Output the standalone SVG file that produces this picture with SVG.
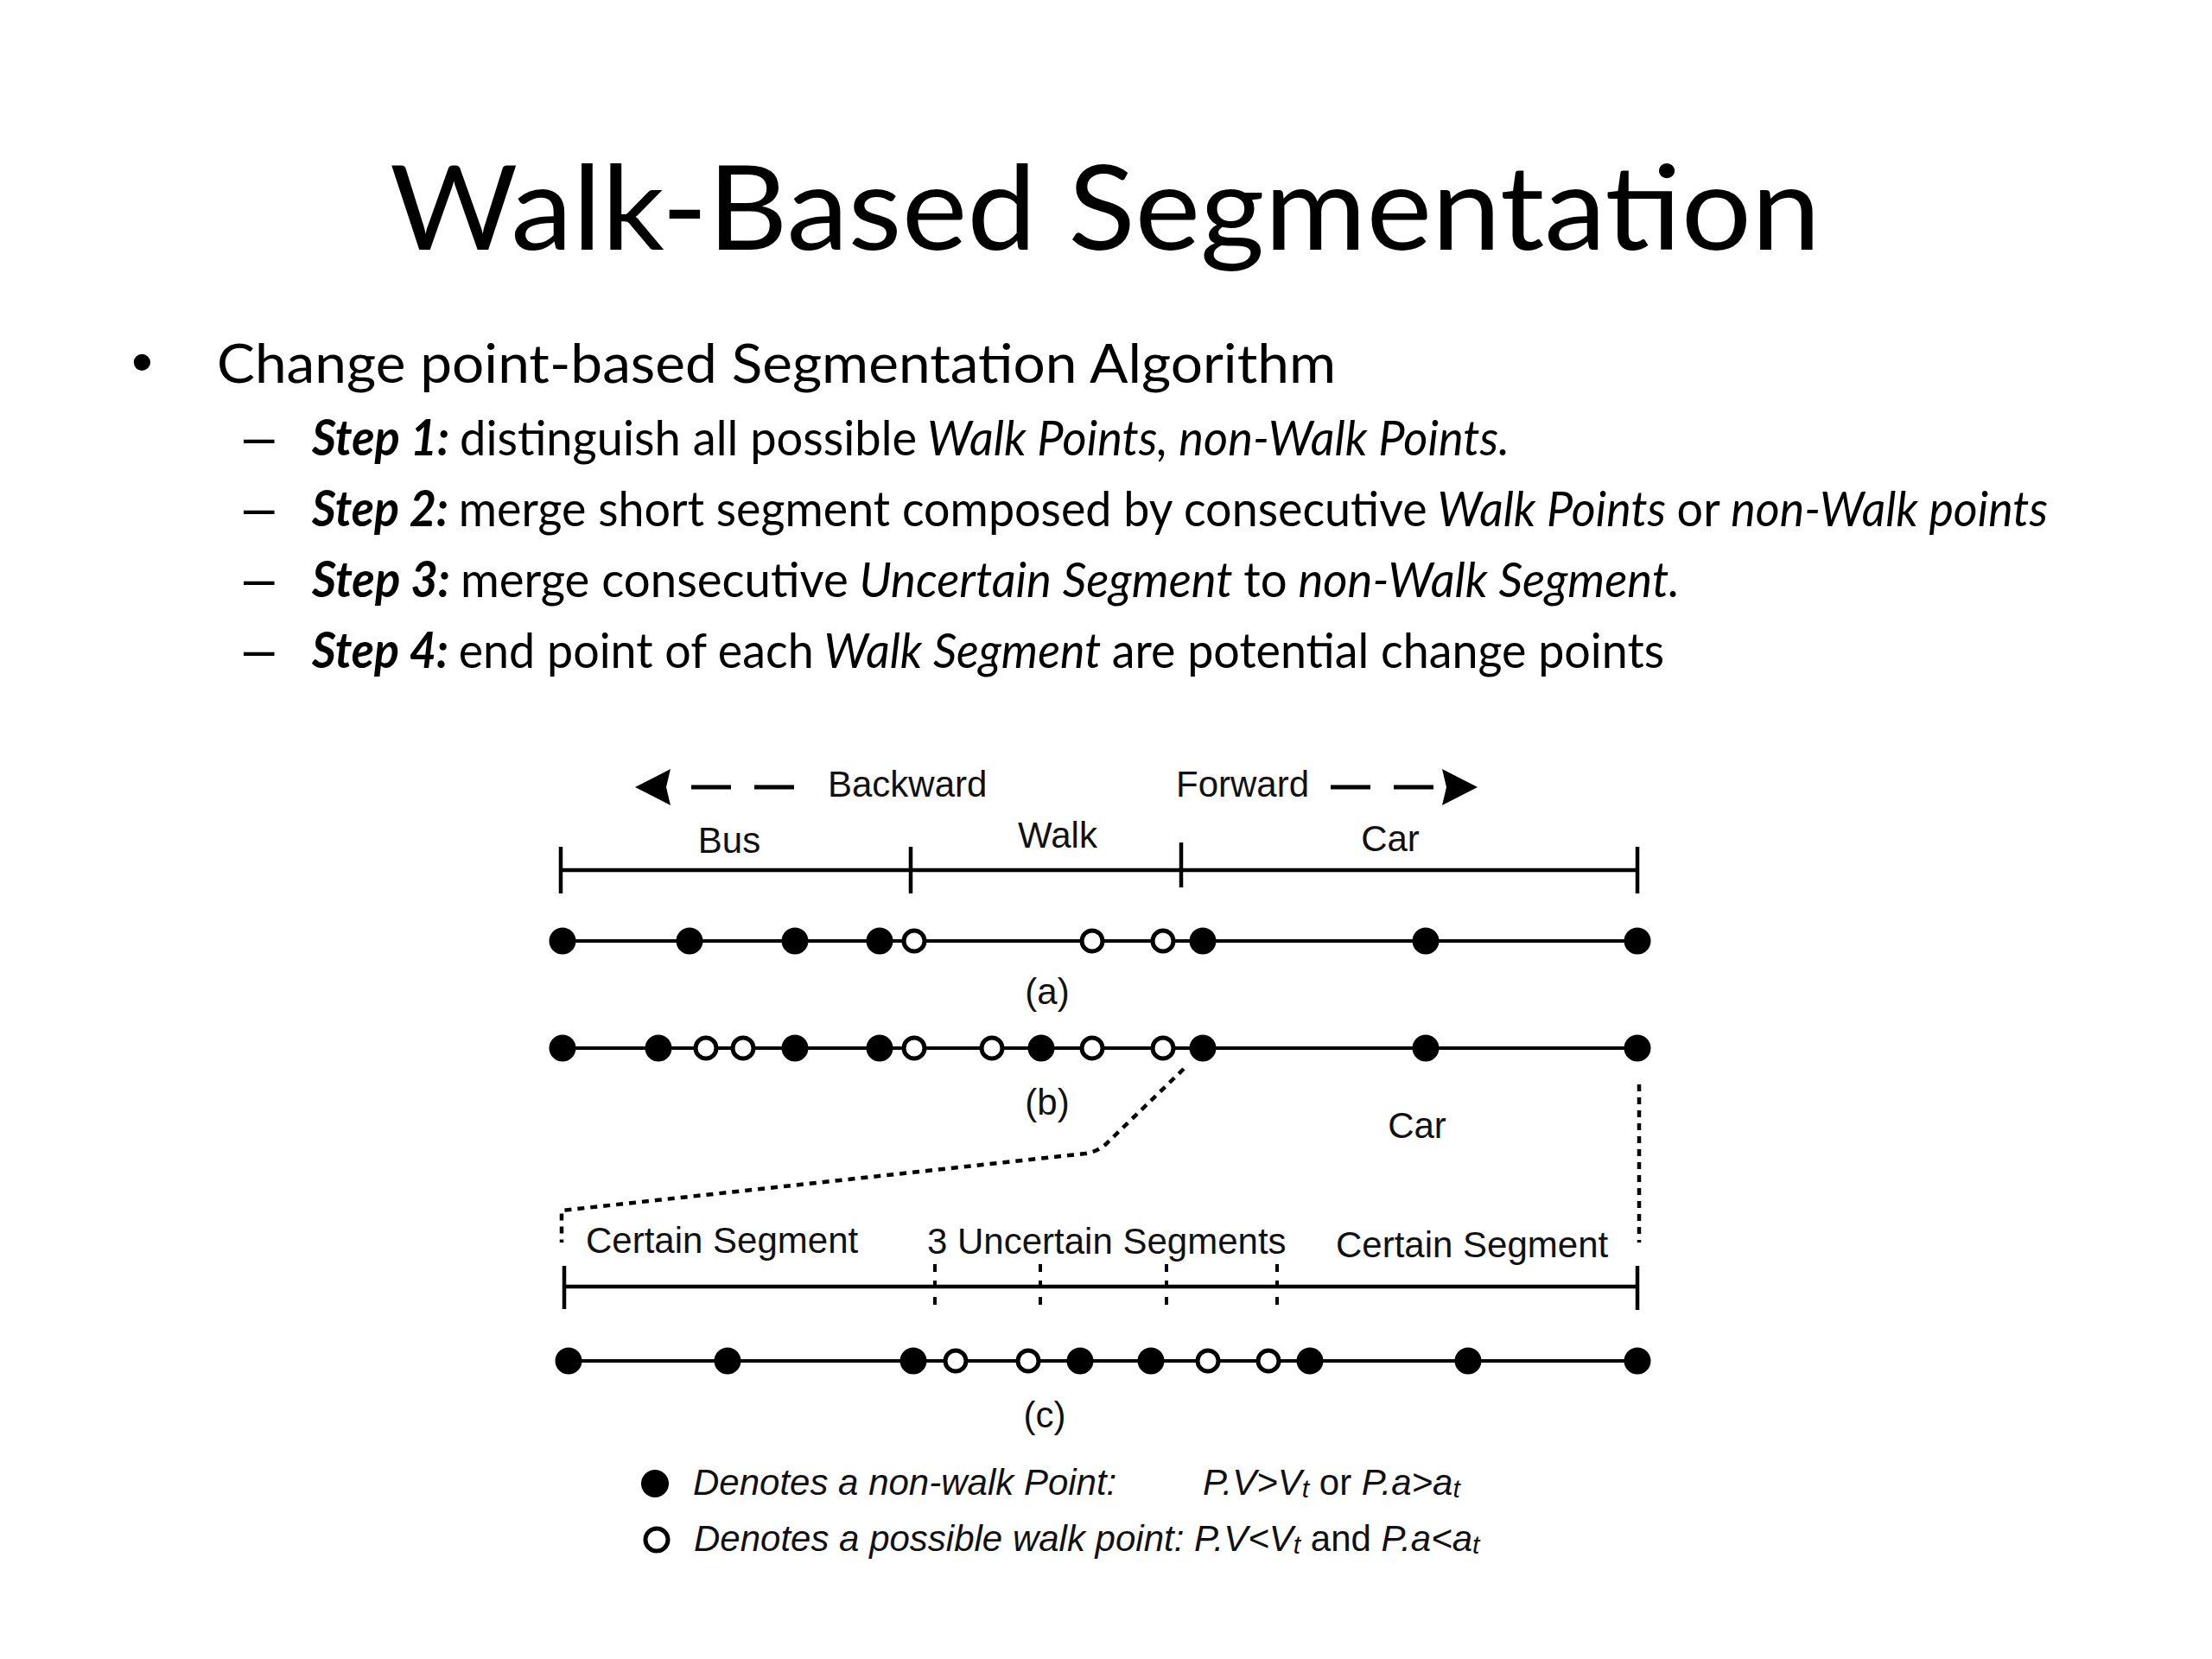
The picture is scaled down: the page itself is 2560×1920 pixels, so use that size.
<svg xmlns="http://www.w3.org/2000/svg" width="2560" height="1920" viewBox="0 0 2560 1920">
<defs>
<style>
.slide{font-family:Lato,"Open Sans","Noto Sans",sans-serif;fill:#000}
.b{font-weight:bold}
.i{font-style:italic}
.dash{font-family:"Liberation Sans",Arial,sans-serif;font-size:64px;fill:#000}
.lbl{font-family:"Liberation Sans",Arial,sans-serif;font-size:42px;fill:#111}
.mid{text-anchor:middle}
.ax{stroke:#000;stroke-width:4.5;fill:none}
.tk{stroke:#000;stroke-width:4.5;fill:none}
.dtk{stroke:#000;stroke-width:4;fill:none;stroke-dasharray:9 10}
.tl{stroke:#000;stroke-width:4;fill:none}
.pf{fill:#000}
.po{fill:#fff;stroke:#000;stroke-width:5}
.arr{stroke:#000;stroke-width:5;fill:none;stroke-dasharray:46 27}
.dot{stroke:#000;stroke-width:4.5;fill:none;stroke-dasharray:8 7}
.sub{font-size:30px}
</style>
<marker id="ah" markerUnits="userSpaceOnUse" markerWidth="42" markerHeight="42" refX="0" refY="21" orient="auto" viewBox="0 0 42 42">
<path d="M0,0 L41,21 L0,42 L5,21 Z" fill="#000"/>
</marker>
</defs>
<rect width="2560" height="1920" fill="#fff"/>

<g id="title">
<text class="slide" x="451" y="289" font-size="136" textLength="1656" lengthAdjust="spacingAndGlyphs">Walk-Based Segmentation</text>
</g>

<g id="bullets">
<text x="152" y="443" font-family="Liberation Sans,Arial,sans-serif" font-size="71">•</text>
<text class="slide" x="251" y="443" font-size="62.5" textLength="1295" lengthAdjust="spacingAndGlyphs">Change point-based Segmentation Algorithm</text>

<text class="dash" x="282" y="527">–</text>
<text class="slide" x="361" y="527" font-size="56.4" textLength="1386" lengthAdjust="spacingAndGlyphs"><tspan class="b i">Step 1: </tspan>distinguish all possible<tspan class="i"> Walk Points, non-Walk Points.</tspan></text>

<text class="dash" x="282" y="609">–</text>
<text class="slide" x="361" y="609" font-size="56.4" textLength="2009" lengthAdjust="spacingAndGlyphs"><tspan class="b i">Step 2: </tspan>merge short segment composed by consecutive<tspan class="i"> Walk Points </tspan>or<tspan class="i"> non-Walk points</tspan></text>

<text class="dash" x="282" y="691">–</text>
<text class="slide" x="361" y="691" font-size="56.4" textLength="1583" lengthAdjust="spacingAndGlyphs"><tspan class="b i">Step 3: </tspan>merge consecutive<tspan class="i"> Uncertain Segment </tspan>to<tspan class="i"> non-Walk Segment.</tspan></text>

<text class="dash" x="282" y="773">–</text>
<text class="slide" x="361" y="773" font-size="56.4" textLength="1565" lengthAdjust="spacingAndGlyphs"><tspan class="b i">Step 4: </tspan>end point of each<tspan class="i"> Walk Segment </tspan>are potential change points</text>
</g>

<g id="connectors">
<path class="arr" d="M919,911 L776,911" marker-end="url(#ah)"/>
<path class="arr" d="M1540,911 L1669,911" marker-end="url(#ah)"/>
<path class="dot" d="M1370,1237 L1280,1324 Q1270,1333 1256,1335 L650,1401 L650,1438"/>
<path class="dot" d="M1897,1255 L1897,1438"/>
</g>

<g id="direction-labels">
<text class="lbl" x="958" y="922">Backward</text>
<text class="lbl" x="1361" y="922">Forward</text>
</g>

<g id="mode-scale">
<line class="ax" x1="649" y1="1007" x2="1895" y2="1007"/>
<line class="tk" x1="649" y1="980" x2="649" y2="1034"/>
<line class="tk" x1="1054" y1="980" x2="1054" y2="1034"/>
<line class="tk" x1="1367" y1="975" x2="1367" y2="1027"/>
<line class="tk" x1="1895" y1="980" x2="1895" y2="1034"/>
<text class="lbl mid" x="844" y="987">Bus</text>
<text class="lbl mid" x="1224" y="981">Walk</text>
<text class="lbl mid" x="1609" y="985">Car</text>
</g>

<g id="row-a">
<line class="tl" x1="651" y1="1089" x2="1895" y2="1089"/>
<circle class="pf" cx="651" cy="1089" r="15.5"/>
<circle class="pf" cx="798" cy="1089" r="15.5"/>
<circle class="pf" cx="920" cy="1089" r="15.5"/>
<circle class="pf" cx="1018" cy="1089" r="15.5"/>
<circle class="po" cx="1058" cy="1089" r="12"/>
<circle class="po" cx="1264" cy="1089" r="12"/>
<circle class="po" cx="1346" cy="1089" r="12"/>
<circle class="pf" cx="1392" cy="1089" r="15.5"/>
<circle class="pf" cx="1650" cy="1089" r="15.5"/>
<circle class="pf" cx="1895" cy="1089" r="15.5"/>
<text class="lbl mid" x="1212" y="1162">(a)</text>
</g>

<g id="row-b">
<line class="tl" x1="651" y1="1213" x2="1895" y2="1213"/>
<circle class="pf" cx="651" cy="1213" r="15.5"/>
<circle class="pf" cx="762" cy="1213" r="15.5"/>
<circle class="po" cx="817" cy="1213" r="12"/>
<circle class="po" cx="860" cy="1213" r="12"/>
<circle class="pf" cx="920" cy="1213" r="15.5"/>
<circle class="pf" cx="1018" cy="1213" r="15.5"/>
<circle class="po" cx="1058" cy="1213" r="12"/>
<circle class="po" cx="1148" cy="1213" r="12"/>
<circle class="pf" cx="1205" cy="1213" r="15.5"/>
<circle class="po" cx="1264" cy="1213" r="12"/>
<circle class="po" cx="1346" cy="1213" r="12"/>
<circle class="pf" cx="1392" cy="1213" r="15.5"/>
<circle class="pf" cx="1650" cy="1213" r="15.5"/>
<circle class="pf" cx="1895" cy="1213" r="15.5"/>
<text class="lbl mid" x="1212" y="1290">(b)</text>
<text class="lbl mid" x="1640" y="1317">Car</text>
</g>

<g id="segment-scale">
<line class="ax" x1="653" y1="1489" x2="1895" y2="1489"/>
<line class="tk" x1="653" y1="1465" x2="653" y2="1515"/>
<line class="tk" x1="1895" y1="1465" x2="1895" y2="1516"/>
<line class="dtk" x1="1082" y1="1463" x2="1082" y2="1512"/>
<line class="dtk" x1="1204" y1="1463" x2="1204" y2="1512"/>
<line class="dtk" x1="1350" y1="1463" x2="1350" y2="1512"/>
<line class="dtk" x1="1478" y1="1463" x2="1478" y2="1512"/>
<text class="lbl" x="678" y="1450">Certain Segment</text>
<text class="lbl" x="1073" y="1451">3 Uncertain Segments</text>
<text class="lbl" x="1546" y="1455">Certain Segment</text>
</g>

<g id="row-c">
<line class="tl" x1="658" y1="1575" x2="1895" y2="1575"/>
<circle class="pf" cx="658" cy="1575" r="15.5"/>
<circle class="pf" cx="842" cy="1575" r="15.5"/>
<circle class="pf" cx="1057" cy="1575" r="15.5"/>
<circle class="po" cx="1106" cy="1575" r="12"/>
<circle class="po" cx="1190" cy="1575" r="12"/>
<circle class="pf" cx="1250" cy="1575" r="15.5"/>
<circle class="pf" cx="1332" cy="1575" r="15.5"/>
<circle class="po" cx="1398" cy="1575" r="12"/>
<circle class="po" cx="1468" cy="1575" r="12"/>
<circle class="pf" cx="1516" cy="1575" r="15.5"/>
<circle class="pf" cx="1699" cy="1575" r="15.5"/>
<circle class="pf" cx="1895" cy="1575" r="15.5"/>
<text class="lbl mid" x="1209" y="1652">(c)</text>
</g>

<g id="legend">
<circle class="pf" cx="758" cy="1717" r="16"/>
<text class="lbl i" x="802" y="1730">Denotes a non-walk Point:</text>
<text class="lbl" x="1392" y="1730"><tspan class="i">P.V&gt;V</tspan><tspan class="i sub" dy="3">t</tspan><tspan dy="-3"> or </tspan><tspan class="i">P.a&gt;a</tspan><tspan class="i sub" dy="3">t</tspan></text>
<circle class="po" cx="760" cy="1782" r="13"/>
<text class="lbl" x="803" y="1795"><tspan class="i">Denotes a possible walk point: P.V&lt;V</tspan><tspan class="i sub" dy="3">t</tspan><tspan dy="-3"> and </tspan><tspan class="i">P.a&lt;a</tspan><tspan class="i sub" dy="3">t</tspan></text>
</g>
</svg>
